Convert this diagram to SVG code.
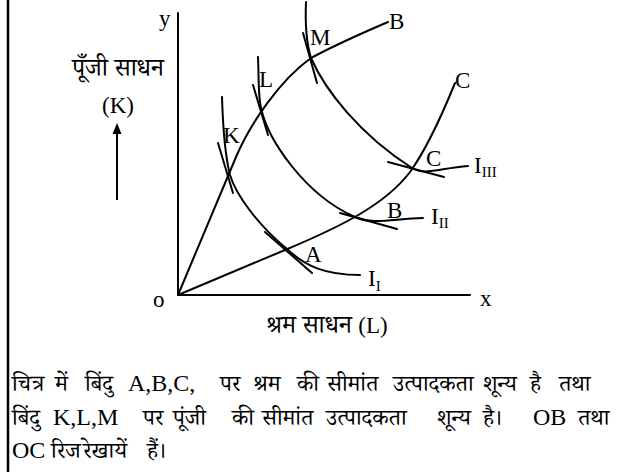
<svg xmlns="http://www.w3.org/2000/svg" width="618" height="472" viewBox="0 0 618 472">
<style>
.ln{fill:none;stroke:#000;stroke-width:2;stroke-linecap:round}
.t{font-family:"Liberation Serif","Noto Serif Devanagari","Noto Sans Devanagari","Lohit Devanagari",FreeSerif,serif;font-size:23px;fill:#000}
.s{font-size:15px}
.d{font-family:"Noto Serif Devanagari","Noto Sans Devanagari","Lohit Devanagari",FreeSerif,"Liberation Serif",serif;font-size:23px;fill:#000}
.h{font-size:25px}
.b{font-family:"Liberation Serif",serif;font-size:24px;fill:#000}
</style>
<line x1="8" y1="0" x2="8" y2="472" stroke="#000" stroke-width="2.5"/>
<g id="axes">
<line class="ln" x1="178" y1="13" x2="178" y2="295"/>
<line class="ln" x1="178" y1="295" x2="470" y2="295"/>
<text class="t" x="159" y="26">y</text>
<text class="t" x="480" y="306">x</text>
<text class="t" x="153" y="307">o</text>
<text class="d h" x="266" y="333">श्रम साधन <tspan font-family="Liberation Serif" font-size="23">(L)</tspan></text>
</g>
<g id="capital-label">
<text class="d h" x="118" y="76" text-anchor="middle">पूँजी साधन</text>
<text class="t" x="118" y="113" text-anchor="middle">(K)</text>
<line x1="117" y1="200" x2="117" y2="132" stroke="#000" stroke-width="2"/>
<polygon points="117,123 112.5,134 121.5,134" fill="#000"/>
</g>
<g id="connectors">
<path id="OB" class="ln" d="M178,295 L236,157 C250,124 280,80 311,58 C335,45 360,34 388,22"/>
<path id="OC" class="ln" d="M178,295 L285,250 C340,227 385,205 410,172 C428,147 442,115 455,83"/>
</g>
<g id="isoquant-I">
<path class="ln" d="M222,97 C223,130 225,155 230,175 C236,195 258,225 287,249 C305,266 325,275 360,275"/>
<line class="ln" x1="218" y1="143" x2="233" y2="193"/>
<line class="ln" x1="265" y1="232" x2="312" y2="273"/>
<text class="t" x="368" y="286">I<tspan class="s" dy="5">I</tspan></text>
</g>
<g id="isoquant-II">
<path class="ln" d="M258,57 C259,80 258,95 261,108 C268,140 305,195 355,217 C372,225 392,219 423,218"/>
<line class="ln" x1="253" y1="85" x2="268" y2="135"/>
<line class="ln" x1="340" y1="213" x2="397" y2="229"/>
<text class="t" x="431" y="224">I<tspan class="s" dy="4">II</tspan></text>
</g>
<g id="isoquant-III">
<path class="ln" d="M306,2 C305,25 307,45 311,58 C325,90 360,135 412,168 C425,176 440,168 468,166"/>
<line class="ln" x1="303" y1="33" x2="317" y2="83"/>
<line class="ln" x1="388" y1="162" x2="444" y2="177"/>
<text class="t" x="474" y="173">I<tspan class="s" dy="4">III</tspan></text>
</g>
<g id="point-labels">
<text class="t" x="223" y="143">K</text>
<text class="t" x="259" y="87">L</text>
<text class="t" x="310" y="45">M</text>
<text class="t" x="389" y="29">B</text>
<text class="t" x="455" y="88">C</text>
<text class="t" x="426" y="166">C</text>
<text class="t" x="387" y="218">B</text>
<text class="t" x="305" y="262">A</text>
</g>
<g id="caption">
<text class="d" x="12" y="391">चित्र</text>
<text class="d" x="55" y="391">में</text>
<text class="d" x="85" y="391">बिंदु</text>
<text class="b" x="128" y="391">A,B,C,</text>
<text class="d" x="220" y="391">पर</text>
<text class="d" x="253" y="391">श्रम</text>
<text class="d" x="297" y="391">की</text>
<text class="d" x="327" y="391">सीमांत</text>
<text class="d" x="393" y="391">उत्पादकता</text>
<text class="d" x="483" y="391">शून्य</text>
<text class="d" x="530" y="391">है</text>
<text class="d" x="559" y="391">तथा</text>
<text class="d" x="12" y="425">बिंदु</text>
<text class="b" x="53" y="425">K,L,M</text>
<text class="d" x="143" y="425">पर</text>
<text class="d" x="173" y="425">पूंजी</text>
<text class="d" x="232" y="425">की</text>
<text class="d" x="262" y="425">सीमांत</text>
<text class="d" x="326" y="425">उत्पादकता</text>
<text class="d" x="437" y="425">शून्य</text>
<text class="d" x="483" y="425">है।</text>
<text class="b" x="533" y="425">OB</text>
<text class="d" x="578" y="425">तथा</text>
<text class="b" x="12" y="458">OC</text>
<text class="d" x="51" y="458">रिज</text>
<text class="d" x="83" y="458">रेखायें</text>
<text class="d" x="147" y="458">हैं।</text>
</g>
</svg>
